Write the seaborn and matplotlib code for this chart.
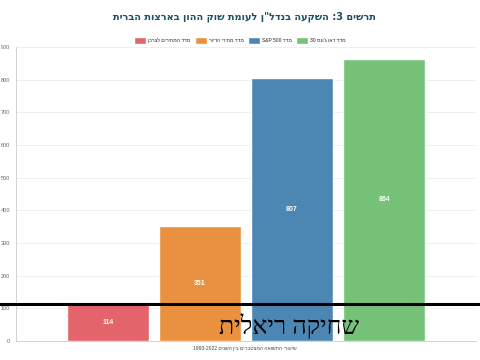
import re
import numpy as np
import pandas as pd
import matplotlib
matplotlib.use("Agg")
import matplotlib.pyplot as plt
import seaborn as sns

TITLE = 'תרשים 3: השקעה בנדל"ן לעומת שוק ההון בארצות הברית'
CAPTION = "שיעורי התשואה המצטברים בין השנים 1993-2022"
OVERLAY = "שחיקה ריאלית"
series_names = ["מדד המחירים לצרכן", "מדד מחירי הדיור", "מדד S&P 500", "מדד דאו ג'ונס 30"]
values = [114, 351, 807, 864]
palette = ["#e3646a", "#ea913f", "#4c87b4", "#75c278"]
line_level = 114
y_ticks = [0, 100, 200, 300, 400, 500, 600, 700, 800, 900]


def rtl(s):
    # matplotlib has no bidi support: flip hebrew runs, keep latin/digit runs
    parts = re.findall(r"[A-Za-z0-9&][A-Za-z0-9&\- ]*[A-Za-z0-9]|[A-Za-z0-9]|[^A-Za-z0-9&]+", s)
    out = []
    for p in reversed(parts):
        if re.match(r"[A-Za-z0-9]", p):
            out.append(p)
        else:
            out.append(p[::-1])
    return "".join(out)


sns.set_style("white")
plt.rcParams["font.family"] = ["Liberation Sans", "DejaVu Sans"]

df = pd.DataFrame({"name": [rtl(n) for n in series_names], "value": values})

fig = plt.figure(figsize=(4.8, 3.6), dpi=100)
ax = fig.add_axes([0.033, 0.053, 0.959, 0.816])
sns.barplot(df, x="name", y="value", hue="name", palette=palette,
            width=0.89, saturation=1, dodge=False, ax=ax, legend=True)

ax.set_xlim(-1, 4)
ax.set_ylim(0, 900)
ax.set_yticks(y_ticks)
ax.set_yticklabels(y_ticks, fontsize=4, color="#666666")
ax.set_xticks([])
ax.set_xlabel("")
ax.set_ylabel("")
ax.grid(axis="y", color="#ececec", linewidth=0.6)
ax.set_axisbelow(True)
for s in ["top", "right"]:
    ax.spines[s].set_visible(False)
for s in ["left", "bottom"]:
    ax.spines[s].set_color("#cccccc")
    ax.spines[s].set_linewidth(0.6)
ax.tick_params(axis="y", length=2, width=0.5, color="#cccccc", pad=2)

for c in ax.containers:
    ax.bar_label(c, label_type="center", fontsize=5, color="white", fontweight="bold")

handles, labels = ax.get_legend_handles_labels()
ax.legend(handles, labels, ncol=4, loc="center", bbox_to_anchor=(0.5, 0.888),
          bbox_transform=fig.transFigure, fontsize=3.6, frameon=False,
          handlelength=2.4, handleheight=1.6, handletextpad=0.4, columnspacing=0.9)

ax.axhline(line_level, xmin=-0.04, xmax=1.01, color="black", linewidth=2.2, clip_on=False, zorder=5)

fig.text(0.51, 0.953, rtl(TITLE), ha="center", va="center", fontsize=7,
         fontweight="bold", color="#1d4f62", family=["DejaVu Sans"])
fig.text(0.51, 0.032, rtl(CAPTION), ha="center", va="center", fontsize=3.6, color="#444444")
ax.text(1.97, 20, rtl(OVERLAY), ha="center", va="baseline", fontsize=18,
        family=["Liberation Serif", "DejaVu Serif"], color="black", zorder=6)

plt.savefig("out.png", dpi=100)
